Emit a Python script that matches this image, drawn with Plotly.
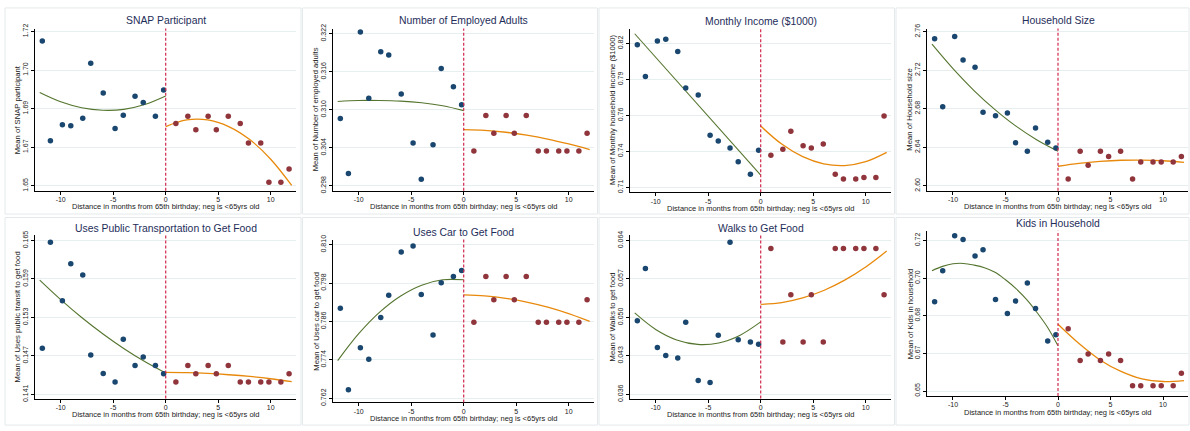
import plotly.graph_objects as go

# ---------------------------------------------------------------- data
# Bin centres (months from 65th birthday)
X_LEFT = [-11.75, -10.98, -9.84, -9.04, -7.9, -7.14, -5.95, -4.82, -4.04, -2.92, -2.14, -0.98, -0.2]
X_RIGHT = [0.97, 2.11, 2.87, 4.04, 4.82, 5.96, 7.1, 7.88, 9.05, 9.83, 10.97, 11.75]
FIT_X_LEFT = [-12, -10, -8, -6, -4, -2, 0]
FIT_X_RIGHT = [0, 2, 4, 6, 8, 10, 12]
FIT_X_LINEAR = [-12, 0]
FIT_X_LEFT_FINE = [-12, -11, -10, -9, -8, -7, -6, -5, -4, -3, -2, -1, 0]

X_TICKS = [-10, -5, 0, 5, 10]
X_TICKTEXT = ["-10", "-5", "0", "5", "10"]
X_TITLE = "Distance in months from 65th birthday; neg is &lt;65yrs old"

# SNAP participant
snap_left = [1.7157, 1.6705, 1.6777, 1.6773, 1.6807, 1.7056, 1.6921, 1.6760, 1.6820, 1.6906, 1.6878, 1.6816, 1.6935]
snap_right = [1.6783, 1.6816, 1.6755, 1.6816, 1.6755, 1.6816, 1.6783, 1.6694, 1.6694, 1.6516, 1.6516, 1.6576]
snap_fit_left = [1.6923, 1.6881, 1.6854, 1.6843, 1.6847, 1.6869, 1.6908]
snap_fit_right = [1.6769, 1.6799, 1.6799, 1.6769, 1.6710, 1.6621, 1.6502]
snap_ticks = [1.65, 1.6675, 1.685, 1.7025, 1.72]
snap_ticktext = ["1.65", "1.67", "1.69", "1.70", "1.72"]

# Number of employed adults
emp_left = [0.30863, 0.29996, 0.32226, 0.31183, 0.31916, 0.31864, 0.31250, 0.30476, 0.29903, 0.30450, 0.31653, 0.31364, 0.31080]
emp_right = [0.30352, 0.30910, 0.30631, 0.30910, 0.30631, 0.30910, 0.30352, 0.30352, 0.30352, 0.30352, 0.30352, 0.30631]
emp_fit_left = [0.31132, 0.31147, 0.31147, 0.31137, 0.31111, 0.31064, 0.30987]
emp_fit_right = [0.30688, 0.30677, 0.30646, 0.30600, 0.30538, 0.30461, 0.30373]
emp_ticks = [0.298, 0.304, 0.310, 0.316, 0.322]
emp_ticktext = ["0.298", "0.304", "0.310", "0.316", "0.322"]

# Monthly household income ($1000)
inc_left = [0.819, 0.79475, 0.822, 0.82325, 0.814, 0.786, 0.78075, 0.75, 0.7455, 0.74025, 0.72975, 0.72025, 0.7385]
inc_right = [0.73475, 0.73925, 0.753, 0.742, 0.74025, 0.74325, 0.72025, 0.7165, 0.7165, 0.71775, 0.71775, 0.76475]
inc_fit_left = [0.8275, 0.7195]
inc_fit_right = [0.757, 0.7432, 0.7336, 0.7281, 0.7268, 0.7298, 0.7369]
inc_ticks = [0.71, 0.7375, 0.765, 0.7925, 0.82]
inc_ticktext = ["0.71", "0.74", "0.76", "0.79", "0.82"]

# Household size
hh_left = [2.7529, 2.6822, 2.7552, 2.7308, 2.7233, 2.6764, 2.6727, 2.6758, 2.6448, 2.6360, 2.6601, 2.6452, 2.6394]
hh_right = [2.6071, 2.6360, 2.6214, 2.6360, 2.6306, 2.6360, 2.6071, 2.6248, 2.6248, 2.6248, 2.6248, 2.6306]
hh_fit_left = [2.7471, 2.7217, 2.6990, 2.6792, 2.6620, 2.6477, 2.6360]
hh_fit_right = [2.6204, 2.6234, 2.6254, 2.6266, 2.6268, 2.6261, 2.6245]
hh_ticks = [2.60, 2.64, 2.68, 2.72, 2.76]
hh_ticktext = ["2.60", "2.64", "2.68", "2.72", "2.76"]

# Uses public transit to get food
tr_left = [0.1482, 0.16474, 0.1556, 0.16137, 0.15964, 0.14713, 0.14427, 0.14294, 0.14958, 0.14549, 0.14682, 0.14549, 0.14422]
tr_right = [0.14294, 0.14549, 0.14422, 0.14549, 0.14422, 0.14549, 0.14294, 0.14294, 0.14294, 0.14294, 0.14294, 0.14422]
tr_fit_left = [0.15882, 0.15578, 0.15299, 0.15045, 0.14815, 0.14611, 0.14432]
tr_fit_right = [0.14442, 0.14438, 0.14426, 0.14406, 0.14379, 0.14343, 0.14299]
tr_ticks = [0.141, 0.147, 0.153, 0.159, 0.165]
tr_ticktext = ["0.141", "0.147", "0.153", "0.159", "0.165"]

# Uses car to get food
car_left = [0.79015, 0.76466, 0.77776, 0.77418, 0.78728, 0.79424, 0.80775, 0.80959, 0.79445, 0.78175, 0.79813, 0.80007, 0.80192]
car_right = [0.78575, 0.80007, 0.79281, 0.80007, 0.79281, 0.80007, 0.78575, 0.78575, 0.78575, 0.78575, 0.78575, 0.79281]
car_fit_left = [0.77377, 0.78219, 0.78894, 0.79399, 0.79736, 0.79904, 0.79904]
car_fit_right = [0.79434, 0.79399, 0.79324, 0.79207, 0.79048, 0.78847, 0.78605]
car_ticks = [0.762, 0.774, 0.786, 0.798, 0.810]
car_ticktext = ["0.762", "0.774", "0.786", "0.798", "0.810"]

# Walks to get food
walk_left = [0.0494, 0.05893, 0.04452, 0.04309, 0.04261, 0.04911, 0.0385, 0.03814, 0.04678, 0.0637, 0.04595, 0.04553, 0.04511]
walk_right = [0.06257, 0.04553, 0.05411, 0.04553, 0.05411, 0.04553, 0.06257, 0.06257, 0.06257, 0.06257, 0.06257, 0.05411]
walk_fit_left = [0.05083, 0.04782, 0.04591, 0.04509, 0.04536, 0.04673, 0.04919]
walk_fit_right = [0.05238, 0.05271, 0.05356, 0.05491, 0.05679, 0.05918, 0.06209]
walk_ticks = [0.036, 0.043, 0.050, 0.057, 0.064]
walk_ticktext = ["0.036", "0.043", "0.050", "0.057", "0.064"]

# Kids in household
kids_left = [0.69154, 0.706, 0.72228, 0.72046, 0.71285, 0.71574, 0.69261, 0.68606, 0.69185, 0.70022, 0.68835, 0.67328, 0.67617]
kids_right = [0.67891, 0.66415, 0.6672, 0.66415, 0.6672, 0.66415, 0.65243, 0.65243, 0.65243, 0.65243, 0.65243, 0.65822]
kids_fit_left = [0.706, 0.70798, 0.70919, 0.70935, 0.70858, 0.70737, 0.70524, 0.70174, 0.69763, 0.69261, 0.68652, 0.67967, 0.671]
kids_fit_right = [0.68104, 0.67206, 0.66446, 0.65913, 0.65563, 0.65441, 0.65487]
kids_ticks = [0.65, 0.6675, 0.685, 0.7025, 0.72]
kids_ticktext = ["0.65", "0.67", "0.68", "0.70", "0.72"]

# ---------------------------------------------------------------- styling
W, H = 1190, 431
X_RANGE = [-12.45, 12.4]
PX_PER_MONTH = 10.5

NAVY = "#1a476f"
MAROON = "#90353b"
GREEN = "#55752f"
ORANGE = "#e8890c"
CUTOFF = "#d0284c"
GRID = "#e6eef0"
TITLE_COLOR = "#1e2d5a"
FONT = "Liberation Sans, Arial, sans-serif"

# Panel geometry in pixels: x0 = pixel of month 0, top/bottom of plot area,
# pixel rows of the lowest and highest y tick.
panels = [
    dict(title="SNAP Participant", ytitle="Mean of SNAP participant",
         left=snap_left, right=snap_right, fxl=FIT_X_LEFT, fl=snap_fit_left, fr=snap_fit_right,
         ticks=snap_ticks, ticktext=snap_ticktext,
         x0=165.7, top=24, bottom=189.3, lo_px=184.3, hi_px=27.0, title_y=16),
    dict(title="Number of Employed Adults", ytitle="Mean of Number of employed adults",
         left=emp_left, right=emp_right, fxl=FIT_X_LEFT, fl=emp_fit_left, fr=emp_fit_right,
         ticks=emp_ticks, ticktext=emp_ticktext,
         x0=463.7, top=24, bottom=189.3, lo_px=184.3, hi_px=29.3, title_y=15.7),
    dict(title="Monthly Income ($1000)", ytitle="Mean of Monthly household income ($1000)",
         left=inc_left, right=inc_right, fxl=FIT_X_LINEAR, fl=inc_fit_left, fr=inc_fit_right,
         ticks=inc_ticks, ticktext=inc_ticktext,
         x0=760.7, top=24, bottom=190.7, lo_px=186.0, hi_px=39.3, title_y=16.7),
    dict(title="Household Size", ytitle="Mean of Household size",
         left=hh_left, right=hh_right, fxl=FIT_X_LEFT, fl=hh_fit_left, fr=hh_fit_right,
         ticks=hh_ticks, ticktext=hh_ticktext,
         x0=1058.0, top=24, bottom=189.3, lo_px=184.3, hi_px=27.3, title_y=15.7),
    dict(title="Uses Public Transportation to Get Food", ytitle="Mean of Uses public transit to get food",
         left=tr_left, right=tr_right, fxl=FIT_X_LEFT, fl=tr_fit_left, fr=tr_fit_right,
         ticks=tr_ticks, ticktext=tr_ticktext,
         x0=165.7, top=234.5, bottom=401.0, lo_px=396.7, hi_px=240.0, title_y=227.7),
    dict(title="Uses Car to Get Food", ytitle="Mean of Uses car to get food",
         left=car_left, right=car_right, fxl=FIT_X_LEFT, fl=car_fit_left, fr=car_fit_right,
         ticks=car_ticks, ticktext=car_ticktext,
         x0=463.7, top=239.0, bottom=405.0, lo_px=400.7, hi_px=244.3, title_y=231.7),
    dict(title="Walks to Get Food", ytitle="Mean of Walks to get food",
         left=walk_left, right=walk_right, fxl=FIT_X_LEFT, fl=walk_fit_left, fr=walk_fit_right,
         ticks=walk_ticks, ticktext=walk_ticktext,
         x0=760.7, top=234.5, bottom=401.0, lo_px=396.7, hi_px=240.0, title_y=227.7),
    dict(title="Kids in Household", ytitle="Mean of Kids in household",
         left=kids_left, right=kids_right, fxl=FIT_X_LEFT_FINE, fl=kids_fit_left, fr=kids_fit_right,
         ticks=kids_ticks, ticktext=kids_ticktext,
         x0=1058.0, top=230.0, bottom=398.3, lo_px=393.3, hi_px=240.0, title_y=222.3),
]

# Light outlines around each graph region
FRAME_COLS = [(5, 301), (302.5, 597.5), (599, 894.5), (896, 1189)]
FRAME_ROWS = [(3, 213), (216.5, 428)]

fig = go.Figure()
layout = dict(
    width=W, height=H, margin=dict(l=0, r=0, t=0, b=0),
    paper_bgcolor="white", plot_bgcolor="white", showlegend=False,
    font=dict(family=FONT, color="#222222"),
)
shapes, annotations = [], []

for i, p in enumerate(panels):
    n = "" if i == 0 else str(i + 1)
    xa, ya = "x" + n, "y" + n

    left_px = p["x0"] + X_RANGE[0] * PX_PER_MONTH
    right_px = p["x0"] + X_RANGE[1] * PX_PER_MONTH
    units_per_px = (p["ticks"][-1] - p["ticks"][0]) / (p["lo_px"] - p["hi_px"])
    y_min = p["ticks"][0] - (p["bottom"] - p["lo_px"]) * units_per_px
    y_max = p["ticks"][-1] + (p["hi_px"] - p["top"]) * units_per_px

    layout["xaxis" + n] = dict(
        domain=[left_px / W, right_px / W], anchor=ya, range=X_RANGE,
        tickmode="array", tickvals=X_TICKS, ticktext=X_TICKTEXT,
        ticks="outside", ticklen=3, tickwidth=1, tickcolor="#000",
        ticklabelstandoff=-1,
        showline=True, linecolor="#000", linewidth=1,
        showgrid=False, zeroline=False,
        tickfont=dict(size=7.0, family=FONT, color="#222"),
    )
    layout["yaxis" + n] = dict(
        domain=[1 - p["bottom"] / H, 1 - p["top"] / H], anchor=xa, range=[y_min, y_max],
        tickmode="array", tickvals=p["ticks"], ticktext=p["ticktext"], tickangle=-90,
        ticks="outside", ticklen=3, tickwidth=1, tickcolor="#000",
        showline=True, linecolor="#000", linewidth=1,
        showgrid=True, gridcolor=GRID, gridwidth=1, zeroline=False,
        tickfont=dict(size=7.0, family=FONT, color="#222"),
    )

    # fitted polynomials either side of the cutoff
    fig.add_trace(go.Scatter(x=p["fxl"], y=p["fl"], xaxis=xa, yaxis=ya, mode="lines",
                             line=dict(color=GREEN, width=1.1, shape="spline", smoothing=1.0),
                             hoverinfo="skip"))
    fig.add_trace(go.Scatter(x=FIT_X_RIGHT, y=p["fr"], xaxis=xa, yaxis=ya, mode="lines",
                             line=dict(color=ORANGE, width=1.3, shape="spline", smoothing=1.0),
                             hoverinfo="skip"))
    # binned means
    fig.add_trace(go.Scatter(x=X_LEFT, y=p["left"], xaxis=xa, yaxis=ya, mode="markers",
                             marker=dict(color=NAVY, size=5.5, line=dict(width=0))))
    fig.add_trace(go.Scatter(x=X_RIGHT, y=p["right"], xaxis=xa, yaxis=ya, mode="markers",
                             marker=dict(color=MAROON, size=5.5, line=dict(width=0))))

    # cutoff at the 65th birthday
    shapes.append(dict(type="line", xref=xa, yref=ya + " domain", x0=0, x1=0, y0=0, y1=1,
                       line=dict(color=CUTOFF, width=1.2, dash="3px,2px"), layer="above"))

    # titles
    annotations.append(dict(text=p["title"], xref="paper", yref="paper",
                            x=p["x0"] / W, y=1 - p["title_y"] / H, showarrow=False,
                            xanchor="center", yanchor="middle",
                            font=dict(size=10.4, family=FONT, color=TITLE_COLOR)))
    annotations.append(dict(text=p["ytitle"], xref="paper", yref="paper",
                            x=(left_px - 17.3) / W, y=1 - (p["top"] + p["bottom"]) / 2 / H,
                            textangle=-90, showarrow=False, xanchor="center", yanchor="middle",
                            font=dict(size=7.7, family=FONT, color="#222")))
    annotations.append(dict(text=X_TITLE, xref="paper", yref="paper",
                            x=(left_px + right_px) / 2 / W, y=1 - (p["bottom"] + 16.4) / H,
                            showarrow=False, xanchor="center", yanchor="middle",
                            font=dict(size=7.5, family=FONT, color="#222")))

for (c0, c1) in FRAME_COLS:
    for (r0, r1) in FRAME_ROWS:
        shapes.append(dict(type="rect", xref="paper", yref="paper",
                           x0=c0 / W, x1=c1 / W, y0=1 - r1 / H, y1=1 - r0 / H,
                           line=dict(color="#e4e9ec", width=1), fillcolor="rgba(0,0,0,0)",
                           layer="below"))

layout["shapes"] = shapes
layout["annotations"] = annotations
fig.update_layout(**layout)
fig.write_html("out.html")
